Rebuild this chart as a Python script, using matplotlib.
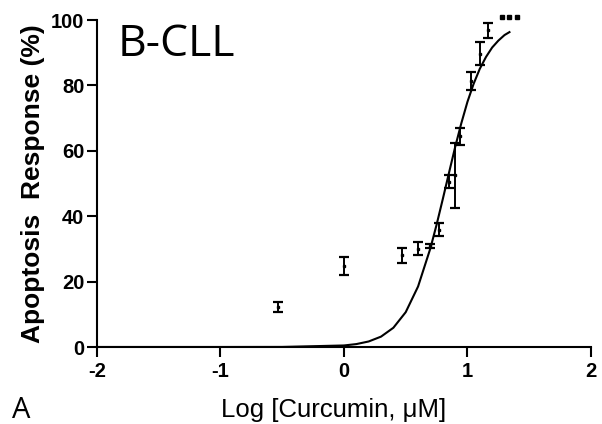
import matplotlib
matplotlib.use("Agg")
import matplotlib.pyplot as plt

# measured points (log concentration, % apoptosis, error)
log_conc = [-0.53, 0.0, 0.47, 0.60, 0.70, 0.77, 0.85, 0.90, 0.94, 1.03, 1.10, 1.17]
response = [12.2, 24.8, 28.0, 30.1, 31.0, 35.9, 50.6, 52.5, 64.4, 81.3, 89.7, 96.8]
response_err = [1.5, 2.8, 2.3, 2.0, 0.6, 2.0, 2.0, 10.0, 2.6, 2.7, 3.5, 2.3]

# fitted dose-response curve
curve_x = [-2.0, -1.0, -0.5, 0.0, 0.1, 0.2, 0.3, 0.4, 0.5, 0.6, 0.7, 0.75, 0.8,
           0.85, 0.9, 0.95, 1.0, 1.05, 1.1, 1.15, 1.2, 1.25, 1.3, 1.34]
curve_y = [0.0, 0.0, 0.02, 0.47, 0.89, 1.69, 3.17, 5.88, 10.65, 18.5, 30.2, 37.4, 45.2,
           53.2, 61.1, 68.4, 75.0, 80.5, 85.1, 88.7, 91.6, 93.7, 95.4, 96.3]

# the three dots clipped at the top
dots_x = [1.28, 1.34, 1.40]
dots_y = [101, 101, 101]

xticks = [-2, -1, 0, 1, 2]
yticks = [0, 20, 40, 60, 80, 100]

plt.rcParams["font.family"] = ["Liberation Sans", "DejaVu Sans"]
plt.rcParams["axes.unicode_minus"] = False

fig = plt.figure(figsize=(6.02, 4.24), dpi=100)
ax = fig.add_axes([0.1610, 0.1816, 0.8207, 0.7712])

ax.plot(curve_x, curve_y, color="black", lw=1.5, zorder=3)
ax.errorbar(log_conc, response, yerr=response_err, fmt="s", color="black",
            ms=2, capsize=3.5, elinewidth=1.4, capthick=1.6, zorder=4)
ax.plot(dots_x, dots_y, "s", color="black", ms=2.2, clip_on=False)

ax.set_xlim(-2, 2)
ax.set_ylim(0, 100)
ax.set_xticks(xticks)
ax.set_yticks(yticks)
ax.spines["top"].set_visible(False)
ax.spines["right"].set_visible(False)
ax.spines["left"].set_linewidth(1.5)
ax.spines["bottom"].set_linewidth(1.5)
ax.tick_params(width=1.5, length=7, direction="out", labelsize=14.5, pad=2)
ax.tick_params(axis="x", pad=4)
for lab in ax.get_xticklabels() + ax.get_yticklabels():
    lab.set_fontweight("bold")

ax.set_ylabel("Apoptosis  Response (%)", fontsize=19, fontweight="bold", labelpad=4)
ax.set_xlabel("Log [Curcumin, \u03bcM]", fontsize=18.5)
ax.xaxis.set_label_coords(0.48, -0.155)

ax.text(-1.83, 89, "B-CLL", fontsize=32, family=["Open Sans", "DejaVu Sans"])
fig.text(0.02, 0.014, "A", fontsize=21, family=["Open Sans", "DejaVu Sans"])

fig.savefig("out.png", dpi=100)
